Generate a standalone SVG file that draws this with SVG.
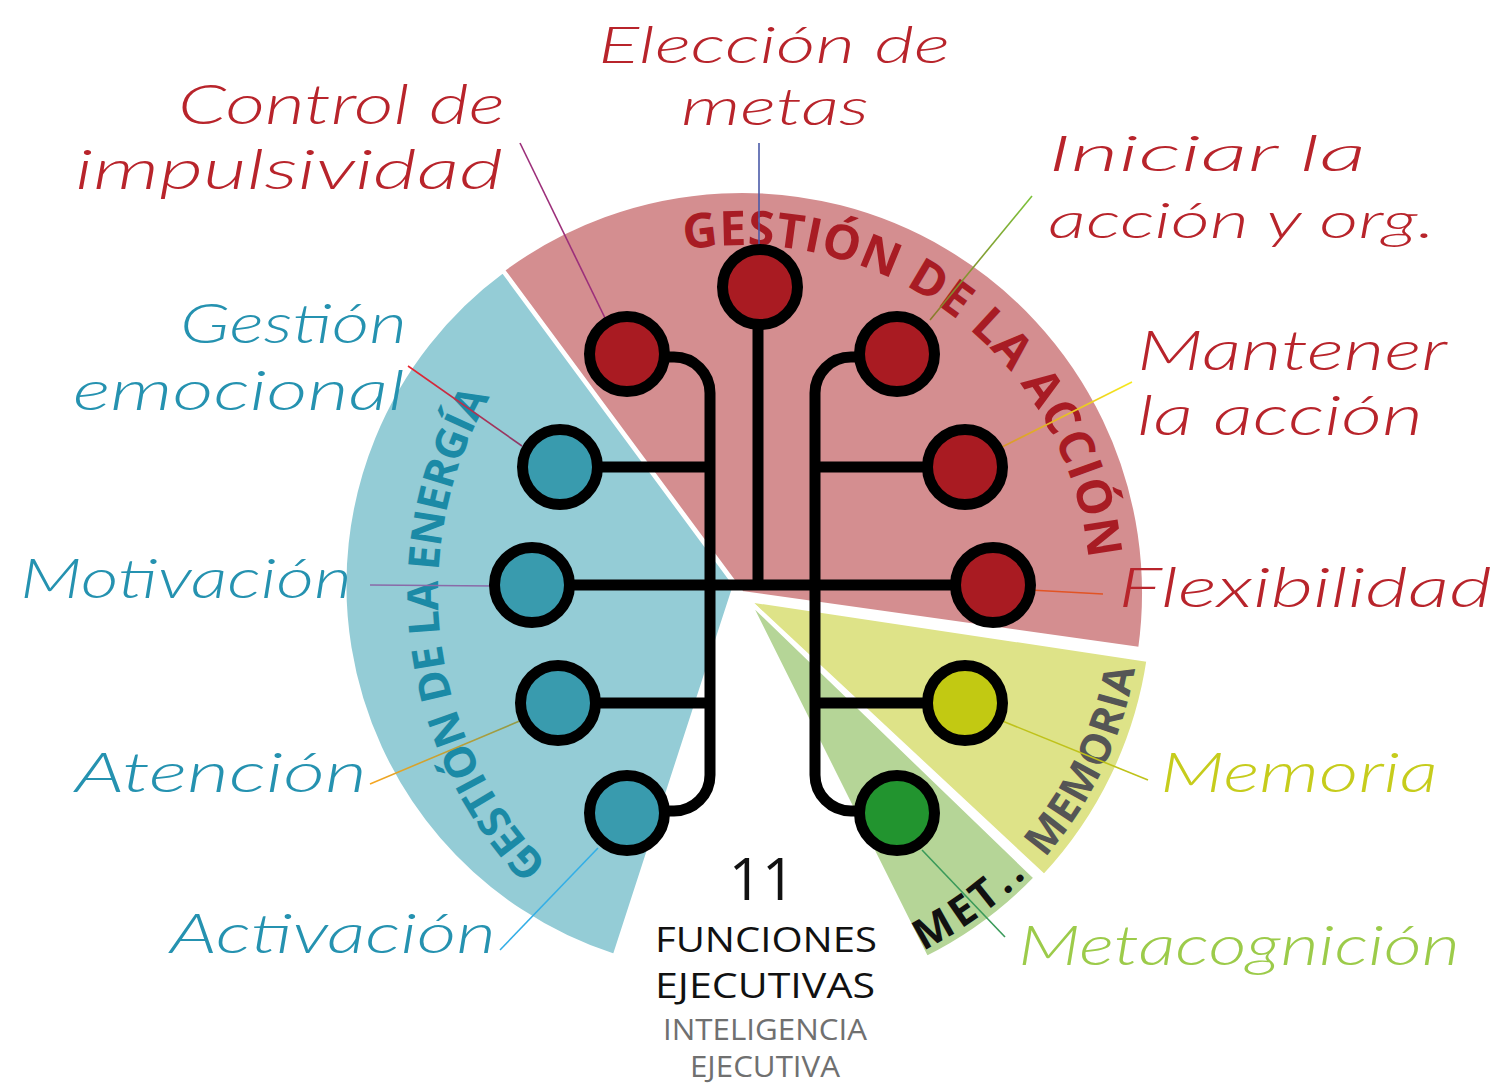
<svg xmlns="http://www.w3.org/2000/svg" width="1498" height="1088" viewBox="0 0 1498 1088">
<style>
.lbl{font-family:Lato,"Open Sans",sans-serif;font-style:italic;font-weight:300;font-size:56px}
.sm{font-size:51px}
.xs{font-size:49px}
.r{fill:#b8242b}
.b{fill:#2592b0}
.arc{font-family:"Open Sans","Liberation Sans",sans-serif;font-weight:700}
.node circle{stroke:#000;stroke-width:11}
.wire{fill:none;stroke:#000;stroke-width:11}
.lead{fill:none;stroke-width:1.6}
.sec{stroke:#fff;stroke-width:4;stroke-linejoin:miter}
.ctr{font-family:"Open Sans","Liberation Sans",sans-serif;text-anchor:middle}
</style>
<defs>
<path id="pRed" d="M684.6,249.8 A348,348 0 0 1 1088.7,562.7"/>
<path id="pBlue" d="M548,864.3 A392,392 0 0 1 494,390.1"/>
<path id="pMem" d="M1044.6,857.8 A393,393 0 0 0 1137.2,654.7"/>
<path id="pMet" d="M922.9,950.8 A392,392 0 0 0 1036,866"/>
<linearGradient id="gMan" gradientUnits="userSpaceOnUse" x1="1132" y1="382" x2="1000" y2="448"><stop offset="0" stop-color="#f6ea1c"/><stop offset="1" stop-color="#d9962e"/></linearGradient>
<linearGradient id="gAte" gradientUnits="userSpaceOnUse" x1="370" y1="784" x2="522" y2="720"><stop offset="0" stop-color="#f7a620"/><stop offset="1" stop-color="#8e9a48"/></linearGradient>
<linearGradient id="gEmo" gradientUnits="userSpaceOnUse" x1="408" y1="366" x2="522" y2="446"><stop offset="0" stop-color="#e8242e"/><stop offset="1" stop-color="#8a3a6a"/></linearGradient>
<linearGradient id="gIni" gradientUnits="userSpaceOnUse" x1="1032" y1="196" x2="930" y2="320"><stop offset="0" stop-color="#7cc23a"/><stop offset="1" stop-color="#8a7a2a"/></linearGradient>
</defs>
<rect width="1498" height="1088" fill="#fff"/>
<g id="sectors">
<path class="sec" fill="#d48e90" d="M742,593 L502.8,269.9 A402,402 0 0 1 1140.1,649 Z"/>
<path class="sec" fill="#94ccd6" d="M735,585 L614.5,956 A390,390 0 0 1 503,271 Z"/>
<path class="sec" fill="#dee388" d="M748,600 L1148.5,659.9 A405,405 0 0 1 1044.2,876.2 Z"/>
<path class="sec" fill="#b5d597" d="M748,600 L1035.7,877.9 A400,400 0 0 1 926.5,958 Z"/>
<text class="arc" font-size="48" fill="#a81c24"><textPath href="#pRed" textLength="570">GESTIÓN DE LA ACCIÓN</textPath></text>
<text class="arc" font-size="43" fill="#1b8aa6"><textPath href="#pBlue" textLength="505">GESTIÓN DE LA ENERGÍA</textPath></text>
<text class="arc" font-size="42" fill="#555"><textPath href="#pMem" textLength="212">MEMORIA</textPath></text>
<text class="arc" font-size="42" fill="#111"><textPath href="#pMet" textLength="128">MET..</textPath></text>
</g>
<g id="connectors">
<path class="wire" d="M758,290 V585"/>
<path class="wire" d="M532,585 H993"/>
<path class="wire" d="M627,357 H674 A36,36 0 0 1 710,393 V775 A36,36 0 0 1 674,811 H627"/>
<path class="wire" d="M897,357 H851 A36,36 0 0 0 815,393 V775 A36,36 0 0 0 851,811 H897"/>
<path class="wire" d="M560,467 H710 M558,703 H710 M815,467 H965 M815,703 H965"/>
<line class="lead" stroke="#9c2f7a" x1="520" y1="143" x2="606" y2="320"/>
<line class="lead" stroke="#4a5aa8" x1="759" y1="143" x2="759" y2="252"/>
<line class="lead" stroke="url(#gIni)" x1="1032" y1="196" x2="930" y2="320"/>
<line class="lead" stroke="url(#gMan)" x1="1132" y1="382" x2="1000" y2="448"/>
<line class="lead" stroke="#e25424" x1="1103" y1="594" x2="1030" y2="590"/>
<line class="lead" stroke="#bfc21a" x1="1148" y1="780" x2="995" y2="718"/>
<line class="lead" stroke="#3a9a5a" x1="1005" y1="937" x2="922" y2="850"/>
<line class="lead" stroke="url(#gEmo)" x1="408" y1="366" x2="522" y2="446"/>
<line class="lead" stroke="#8a6aa8" x1="370" y1="585" x2="495" y2="586"/>
<line class="lead" stroke="url(#gAte)" x1="370" y1="784" x2="522" y2="720"/>
<line class="lead" stroke="#33aee6" x1="500" y1="950" x2="598" y2="848"/>
</g>
<g id="node-eleccion" class="node"><circle cx="760" cy="287" r="37.5" fill="#a91b22"/>
<text class="lbl sm r" x="598" y="63" textLength="352" lengthAdjust="spacingAndGlyphs">Elección de</text>
<text class="lbl sm r" x="681" y="125" textLength="188" lengthAdjust="spacingAndGlyphs">metas</text></g>
<g id="node-control" class="node"><circle cx="627" cy="354" r="37.5" fill="#a91b22"/>
<text class="lbl r" x="178" y="124" textLength="327" lengthAdjust="spacingAndGlyphs">Control de</text>
<text class="lbl r" x="75" y="189" textLength="428" lengthAdjust="spacingAndGlyphs">impulsividad</text></g>
<g id="node-iniciar" class="node"><circle cx="897" cy="354" r="37.5" fill="#a91b22"/>
<text class="lbl xs r" x="1048" y="171" textLength="318" lengthAdjust="spacingAndGlyphs">Iniciar la</text>
<text class="lbl xs r" x="1048" y="238" textLength="387" lengthAdjust="spacingAndGlyphs">acción y org.</text></g>
<g id="node-mantener" class="node"><circle cx="965" cy="467" r="37.5" fill="#a91b22"/>
<text class="lbl r" x="1137" y="370" textLength="310" lengthAdjust="spacingAndGlyphs">Mantener</text>
<text class="lbl r" x="1137" y="435" textLength="286" lengthAdjust="spacingAndGlyphs">la acción</text></g>
<g id="node-flexibilidad" class="node"><circle cx="993" cy="585" r="37.5" fill="#a91b22"/>
<text class="lbl r" x="1118" y="607" textLength="374" lengthAdjust="spacingAndGlyphs">Flexibilidad</text></g>
<g id="node-memoria" class="node"><circle cx="965" cy="703" r="37.5" fill="#c2c912"/>
<text class="lbl" fill="#c6cc1c" x="1160" y="792" textLength="278" lengthAdjust="spacingAndGlyphs">Memoria</text></g>
<g id="node-metacognicion" class="node"><circle cx="897" cy="813" r="37.5" fill="#22942f"/>
<text class="lbl" fill="#9ccb4a" x="1018" y="965" textLength="442" lengthAdjust="spacingAndGlyphs">Metacognición</text></g>
<g id="node-emocional" class="node"><circle cx="560" cy="467" r="37.5" fill="#399bae"/>
<text class="lbl b" x="180" y="343" textLength="227" lengthAdjust="spacingAndGlyphs">Gestión</text>
<text class="lbl b" x="73" y="410" textLength="332" lengthAdjust="spacingAndGlyphs">emocional</text></g>
<g id="node-motivacion" class="node"><circle cx="532" cy="585" r="37.5" fill="#399bae"/>
<text class="lbl b" x="20" y="598" textLength="332" lengthAdjust="spacingAndGlyphs">Motivación</text></g>
<g id="node-atencion" class="node"><circle cx="558" cy="703" r="37.5" fill="#399bae"/>
<text class="lbl b" x="75" y="792" textLength="292" lengthAdjust="spacingAndGlyphs">Atención</text></g>
<g id="node-activacion" class="node"><circle cx="627" cy="813" r="37.5" fill="#399bae"/>
<text class="lbl b" x="170" y="953" textLength="326" lengthAdjust="spacingAndGlyphs">Activación</text></g>
<g id="title">
<text class="ctr" x="762" y="900" font-size="58" fill="#111">11</text>
<text class="ctr" x="766" y="952" font-size="35" fill="#111" textLength="222" lengthAdjust="spacingAndGlyphs">FUNCIONES</text>
<text class="ctr" x="765" y="998" font-size="35" fill="#111" textLength="220" lengthAdjust="spacingAndGlyphs">EJECUTIVAS</text>
<text class="ctr" x="765" y="1040" font-size="29" fill="#707070" textLength="204" lengthAdjust="spacingAndGlyphs">INTELIGENCIA</text>
<text class="ctr" x="765" y="1077" font-size="29" fill="#707070" textLength="150" lengthAdjust="spacingAndGlyphs">EJECUTIVA</text>
</g>
</svg>
